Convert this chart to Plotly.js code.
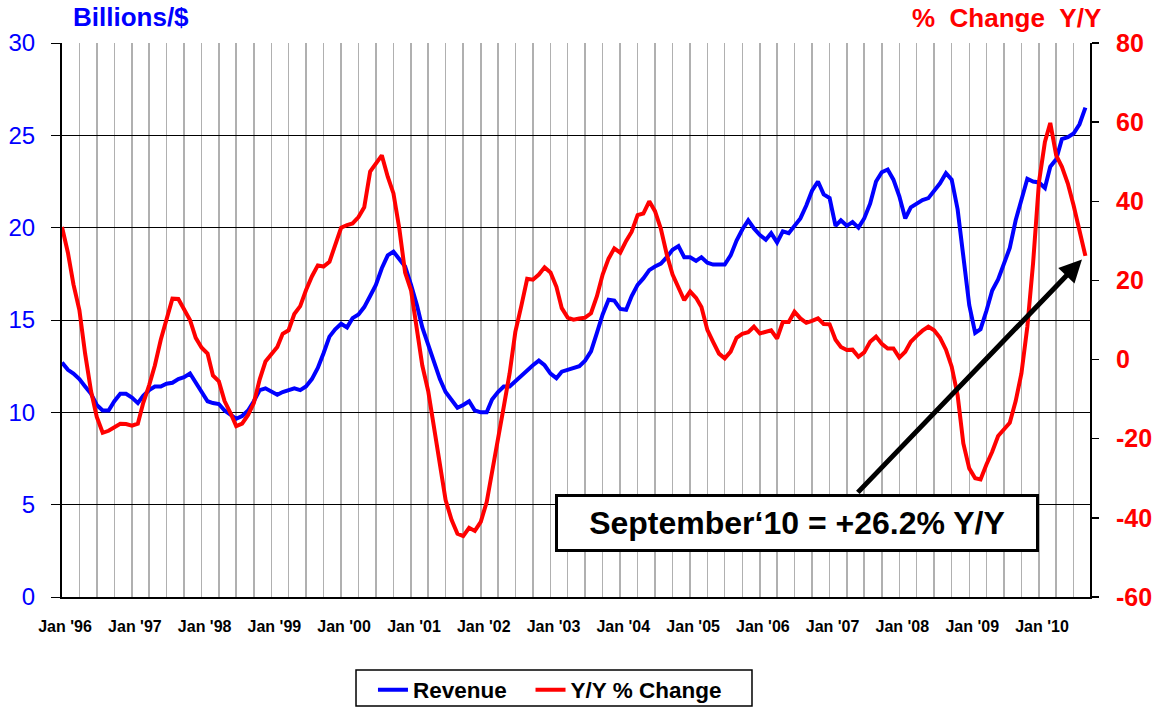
<!DOCTYPE html>
<html><head><meta charset="utf-8">
<script src="https://cdn.plot.ly/plotly-3.0.1.min.js"></script>
<style>html,body{margin:0;padding:0;background:#fff}#chart{width:1156px;height:709px}</style>
</head><body><div id="chart"></div>
<script>
// Monthly, Jan 1996 .. Sep 2010
const revenue = [
 12.7,12.3,12.1,11.8,11.4,11.0,10.4,10.1,10.1,10.6,11.0,11.0,
 10.8,10.5,10.9,11.2,11.4,11.4,11.55,11.6,11.8,11.9,12.1,11.6,
 11.1,10.6,10.5,10.45,10.1,9.85,9.65,9.8,10.1,10.6,11.2,11.3,
 11.15,10.95,11.1,11.2,11.3,11.2,11.4,11.8,12.4,13.2,14.1,14.5,
 14.8,14.6,15.1,15.3,15.7,16.3,16.9,17.8,18.5,18.7,18.3,17.9,
 16.9,15.8,14.6,13.7,12.8,11.8,11.1,10.7,10.25,10.4,10.6,10.1,
 10.0,10.0,10.7,11.1,11.4,11.4,11.7,12.0,12.3,12.55,12.8,12.55,
 12.1,11.85,12.2,12.3,12.4,12.5,12.8,13.3,14.3,15.3,16.1,16.05,
 15.6,15.55,16.3,16.9,17.25,17.7,17.9,18.05,18.4,18.8,19.0,18.4,
 18.4,18.2,18.4,18.1,18.0,18.0,18.0,18.5,19.3,19.9,20.4,19.96,
 19.6,19.35,19.7,19.2,19.8,19.7,20.1,20.5,21.2,22.0,22.5,21.8,
 21.6,20.1,20.4,20.1,20.3,20.0,20.5,21.3,22.5,23.0,23.15,22.6,
 21.7,20.5,21.1,21.3,21.5,21.6,22.0,22.4,22.95,22.6,21.0,18.6,
 15.8,14.3,14.5,15.5,16.6,17.2,18.1,18.9,20.4,21.6,22.65,22.5,
 22.45,22.15,23.3,23.7,24.8,24.9,25.1,25.6,26.5
];
const yoyChange = [
 33.5,27,19,12.5,1.5,-8,-14.5,-18.5,-18,-17,-16.2,-16.3,
 -16.7,-16.2,-11,-6.5,-1.5,5,10.5,15.4,15.3,12.5,10,5.5,
 3,1.5,-4,-5.5,-10.5,-13.5,-16.8,-16.2,-14,-11,-5,-0.5,
 1.5,3.2,6.5,7.4,11.5,13.5,17.5,21,23.8,23.5,24.7,29,
 33.3,34,34.4,36,38.5,47.5,49.5,51.6,46.2,42,33,22,
 17.5,8,-1.5,-8,-17,-27,-35.5,-40.5,-44,-44.6,-42.5,-43.3,
 -41,-36,-28,-20,-12,-3.5,7,13.5,20.4,20.2,21.5,23.3,
 22,18.4,13,10.6,10.1,10.4,10.6,11.7,16,21.5,25.5,28.1,
 27,30,32.3,36.5,36.9,40,37.5,33,26.5,21.5,18,15,
 17.2,15.6,13.3,7.5,4.5,1.5,0.3,2,5.5,6.5,6.9,8.3,
 6.6,7,7.4,5.3,9.5,9.5,12.1,10.4,9.3,9.8,10.4,9,
 8.9,5,3.2,2.4,2.5,0.7,1.8,4.5,5.8,4,2.8,2.8,
 0.5,2,4.5,6,7.3,8.3,7.4,5.5,2.5,-1.8,-9,-21.2,
 -27.5,-30,-30.3,-26.5,-23.3,-19.3,-17.5,-16,-10.5,-3.5,8.3,24.3,
 44.9,55,59.8,51.6,48.7,44.5,39,32,26.2
];
const tickDates = ['1996-01-01','1997-01-01','1998-01-01','1999-01-01','2000-01-01','2001-01-01','2002-01-01','2003-01-01','2004-01-01','2005-01-01','2006-01-01','2007-01-01','2008-01-01','2009-01-01','2010-01-01'];
const tickLabels = ["Jan '96","Jan '97","Jan '98","Jan '99","Jan '00","Jan '01","Jan '02","Jan '03","Jan '04","Jan '05","Jan '06","Jan '07","Jan '08","Jan '09","Jan '10"];
const leftTicks = [0, 5, 10, 15, 20, 25, 30];
const rightTicks = [-60, -40, -20, 0, 20, 40, 60, 80];
const rightTickLabels = ['-60', '-40', '-20', '0', '20', '40', '60', '80'];
const seriesNames = ['Revenue', 'Y/Y % Change'];
const calloutText = 'September\u201810 = +26.2% Y/Y';

const months = [];
for (let k = 0; k < revenue.length; k++) {
  const yr = 1996 + Math.floor(k / 12), mo = (k % 12) + 1;
  months.push(yr + '-' + String(mo).padStart(2, '0') + '-01');
}

const FONT = 'Liberation Sans, Arial, Helvetica, sans-serif';
const last = months.length - 1;
const PAD = '\u00a0\u00a0\u00a0';

const traces = [
  {x: months, y: revenue, name: seriesNames[0] + PAD, type: 'scatter', mode: 'lines',
   line: {color: '#0000FF', width: 4}, yaxis: 'y'},
  {x: months, y: yoyChange, name: seriesNames[1], type: 'scatter', mode: 'lines',
   line: {color: '#FF0000', width: 4}, yaxis: 'y2'}
];

const layout = {
  width: 1156, height: 709,
  margin: {l: 62, r: 66, t: 43, b: 112, pad: 0, autoexpand: false},
  paper_bgcolor: '#fff', plot_bgcolor: '#fff',
  font: {family: FONT, color: '#000'},
  showlegend: true,
  legend: {orientation: 'h', x: 0.3025, xanchor: 'left', y: -0.168, yanchor: 'middle',
    bgcolor: 'rgba(0,0,0,0)', borderwidth: 0,
    font: {family: FONT, size: 22.5, weight: 'bold', color: '#000'}},
  shapes: [
    {type: 'rect', xref: 'paper', yref: 'paper', x0: 0.286, x1: 0.6712, y0: -0.1968, y1: -0.1318,
     line: {color: '#000', width: 1.5}, fillcolor: 'rgba(0,0,0,0)', layer: 'below'}
  ],
  xaxis: {
    type: 'date', range: ['1996-01-01', '2010-09-25'],
    tickmode: 'array', tickvals: tickDates, ticktext: tickLabels,
    ticks: '', ticklabelstandoff: 14, ticklabelshift: 3,
    tickfont: {family: FONT, size: 16, weight: 'bold', color: '#000'},
    showgrid: true, gridcolor: '#b0b0b0', gridwidth: 1.5,
    minor: {dtick: 'M3', tick0: '1996-01-01', showgrid: true, gridcolor: '#b0b0b0', gridwidth: 1.5},
    showline: true, linecolor: '#000', linewidth: 1.5, zeroline: false
  },
  yaxis: {
    range: [0, 30], tickmode: 'array', tickvals: leftTicks,
    showgrid: true, gridcolor: '#000', gridwidth: 1, zeroline: false,
    showline: true, linecolor: '#000', linewidth: 2,
    ticks: 'outside', ticklen: 9, tickwidth: 1, tickcolor: '#000',
    ticklabelstandoff: 11,
    tickfont: {family: FONT, size: 24, color: '#0000FF'}
  },
  yaxis2: {
    overlaying: 'y', side: 'right', range: [-60, 80], tickmode: 'array',
    tickvals: rightTicks, ticktext: rightTickLabels,
    showgrid: false, zeroline: false,
    showline: true, linecolor: '#000', linewidth: 2,
    ticks: 'outside', ticklen: 7, tickwidth: 1.5, tickcolor: '#000',
    ticklabelstandoff: 12,
    tickfont: {family: FONT, size: 25, weight: 'bold', color: '#FF0000'}
  },
  annotations: [
    {xref: 'paper', yref: 'paper', x: 0.0088, y: 1.0475, xanchor: 'left', yanchor: 'middle',
     text: '<b>Billions/$</b>', showarrow: false, font: {family: FONT, size: 26, color: '#0000FF'}},
    {xref: 'paper', yref: 'paper', x: 1.0126, y: 1.046, xanchor: 'right', yanchor: 'middle',
     text: '<b>%\u00a0\u00a0Change\u00a0\u00a0Y/Y</b>', showarrow: false, font: {family: FONT, size: 26, color: '#FF0000'}},
    {xref: 'x', yref: 'y2', x: months[last], y: yoyChange[last], text: '',
     showarrow: true, ax: -229, ay: 238, arrowcolor: '#000', arrowwidth: 5,
     arrowhead: 2, arrowsize: 0.9, standoff: 5},
    {xref: 'paper', yref: 'paper', x: 0.715, y: 0.1327, xanchor: 'center', yanchor: 'middle',
     text: '<b>' + calloutText + '</b>', showarrow: false,
     font: {family: FONT, size: 32, color: '#000'},
     bordercolor: '#000', borderwidth: 3, borderpad: 2, bgcolor: '#fff', width: 474, height: 48}
  ]
};

Plotly.newPlot('chart', traces, layout, {displayModeBar: false, staticPlot: true});
</script></body></html>
